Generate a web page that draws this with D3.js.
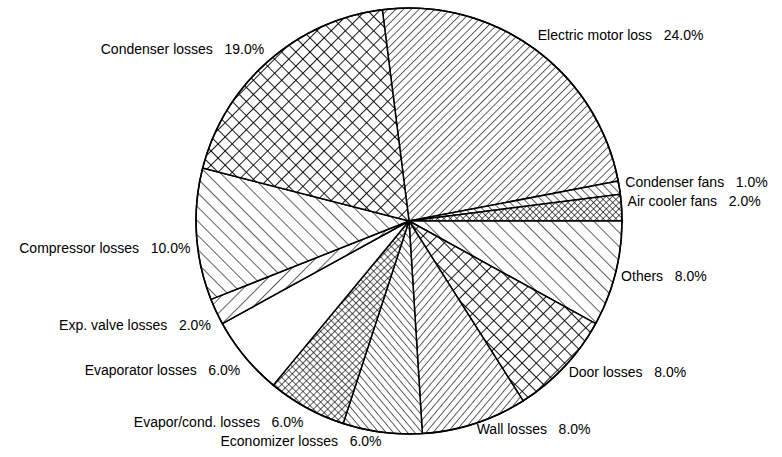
<!DOCTYPE html>
<html>
    <head>
        <script type="text/javascript" src="https://d3js.org/d3.v7.min.js"></script>
        <style>
            body { margin: 0; background: #fff; }
            text { font-family: "Liberation Sans", Arial, sans-serif; font-size: 14px; fill: #000; white-space: pre; }
        </style>
    </head>

    <body>
        <svg width="782" height="457"></svg>

        <script type="text/javascript">
            // slices, clockwise from just left of 12 o'clock
            var categories = ["Electric motor loss", "Condenser fans", "Air cooler fans", "Others",
                "Door losses", "Wall losses", "Economizer losses", "Evapor/cond. losses",
                "Evaporator losses", "Exp. valve losses", "Compressor losses", "Condenser losses"];
            var shares = [24, 1, 2, 8, 8, 8, 6, 6, 6, 2, 10, 19];
            var pctLabels = ["24.0%", "1.0%", "2.0%", "8.0%", "8.0%", "8.0%", "6.0%", "6.0%",
                "6.0%", "2.0%", "10.0%", "19.0%"];

            // hatch per slice: kind, spacing, angle
            var hatches = [
                {kind: "line", gap: 5.5, rot: 45},
                {kind: "line", gap: 6, rot: -45},
                {kind: "cross", gap: 4.5, rot: 45},
                {kind: "line", gap: 10, rot: -45},
                {kind: "cross", gap: 10, rot: 45, w: 1.8},
                {kind: "line", gap: 5.5, rot: 40},
                {kind: "line", gap: 5.5, rot: -40},
                {kind: "cross", gap: 5, rot: 45},
                {kind: "none"},
                {kind: "line", gap: 10, rot: 45},
                {kind: "line", gap: 10, rot: -45},
                {kind: "cross", gap: 10, rot: 45, w: 1.8}
            ];
            // small vertical nudges so labels sit where the original put them
            var labelDy = [-4, 0, -1, 6, 6, 5, 8, 14, 14, 16, 18, -3];

            var cx = 409, cy = 221, r = 213;
            var start = -7.2 * Math.PI / 180;

            var svg = d3.select("svg");
            var defs = svg.append("defs");

            hatches.forEach(function(h, i) {
                if (h.kind == "none") return;
                var p = defs.append("pattern")
                    .attr("id", "hatch" + i)
                    .attr("patternUnits", "userSpaceOnUse")
                    .attr("width", h.gap).attr("height", h.gap)
                    .attr("patternTransform", "rotate(" + h.rot + ")");
                p.append("rect").attr("width", h.gap).attr("height", h.gap).attr("fill", "#fff");
                p.append("line")
                    .attr("x1", 0).attr("y1", -1).attr("x2", 0).attr("y2", h.gap + 1)
                    .attr("stroke", "#000").attr("stroke-width", h.w || 1.25);
                if (h.kind == "cross") {
                    p.append("line")
                        .attr("x1", -1).attr("y1", 0).attr("x2", h.gap + 1).attr("y2", 0)
                        .attr("stroke", "#000").attr("stroke-width", h.w || 1.25);
                }
            });

            var pie = d3.pie().sort(null).startAngle(start).endAngle(start + 2 * Math.PI);
            var arc = d3.arc().innerRadius(0).outerRadius(r);
            var arcs = pie(shares);

            var g = svg.append("g").attr("transform", "translate(" + cx + "," + cy + ")");

            g.selectAll("path")
                .data(arcs)
                .enter()
                .append("path")
                .attr("d", arc)
                .attr("fill", function(d, i) { return hatches[i].kind == "none" ? "#fff" : "url(#hatch" + i + ")"; })
                .attr("stroke", "#000")
                .attr("stroke-width", 1.5)
                .attr("stroke-linejoin", "round");

            g.append("circle").attr("r", r).attr("fill", "none").attr("stroke", "#000").attr("stroke-width", 1.5);

            g.selectAll("text.lab")
                .data(arcs)
                .enter()
                .append("text")
                .attr("class", "lab")
                .each(function(d, i) {
                    var a = (d.startAngle + d.endAngle) / 2;
                    var x = Math.sin(a) * (r + 6), y = -Math.cos(a) * (r + 6) + labelDy[i];
                    d3.select(this)
                        .attr("x", x).attr("y", y)
                        .attr("text-anchor", Math.sin(a) >= 0 ? "start" : "end")
                        .text(categories[i] + "   " + pctLabels[i]);
                });
        </script>
    </body>
</html>
